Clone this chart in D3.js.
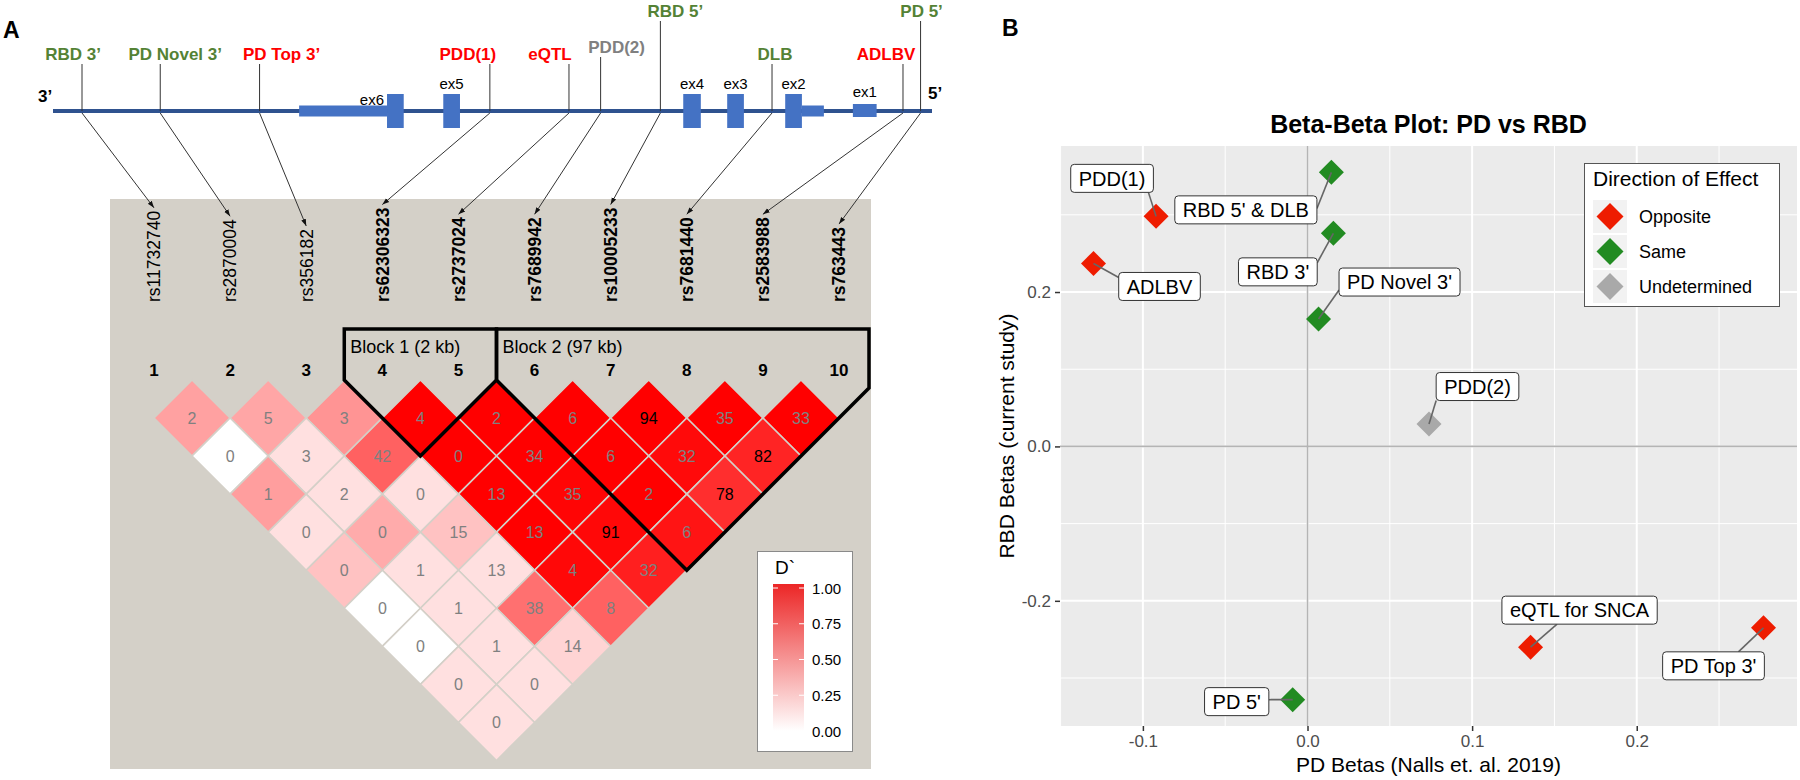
<!DOCTYPE html>
<html><head><meta charset="utf-8">
<script src="https://cdn.jsdelivr.net/npm/d3@7"></script>
<style>
body{margin:0;background:#fff}
svg{display:block}
text{font-family:"Liberation Sans",Arial,Helvetica,sans-serif}
</style>
</head><body>
<svg id="c" width="1800" height="780"></svg>
<script>
// ================= DATA =================
// Panel A: gene diagram
const geneLabels = ["RBD 3’","PD Novel 3’","PD Top 3’","PDD(1)","eQTL","PDD(2)","RBD 5’","DLB","ADLBV","PD 5’"];
const geneLabelEffect = ["Same","Same","Opposite","Opposite","Opposite","Undetermined","Same","Same","Opposite","Same"];
const genePos = [3.3,12.2,23.5,49.7,58.7,62.3,69.1,81.8,96.7,98.7]; // relative position along drawn region (0-100)
const exonNames = ["ex6","ex5","ex4","ex3","ex2","ex1"];
const exonStart = [38.0,44.4,71.7,76.7,83.3,91.0];
const exonEnd   = [39.9,46.3,73.7,78.6,85.2,93.7];
const exonType  = ["coding","coding","coding","coding","coding","noncoding"];
const utrStart = [28.0,85.2];
const utrEnd   = [38.0,87.7];

// Panel A: LD plot
const snpIds = ["rs11732740","rs2870004","rs356182","rs62306323","rs2737024","rs7689942","rs10005233","rs7681440","rs2583988","rs763443"];
const snpNumbers = ["1","2","3","4","5","6","7","8","9","10"];
// rows by distance k=1..9; entry i -> pair (i+1, i+1+k)
const ldR2Rows = [
  [2,5,3,4,2,6,94,35,33],
  [0,3,42,0,34,6,32,82],
  [1,2,0,13,35,2,78],
  [0,0,15,13,91,6],
  [0,1,13,4,32],
  [0,1,38,8],
  [0,1,14],
  [0,0],
  [0]
];
const ldDprimeRows = [
  [0.37,0.35,0.42,1,1,1,1,1,1],
  [0,0.12,0.62,1,1,1,0.96,0.86],
  [0.38,0.12,0.12,1,0.98,1,0.82],
  [0.12,0.33,0.24,1,0.97,0.92],
  [0.24,0.12,0.12,0.97,0.88],
  [0,0.12,0.56,0.62],
  [0,0.12,0.17],
  [0.12,0.12],
  [0.12]
];
const blockNames = ["Block 1 (2 kb)","Block 2 (97 kb)"];
const blockStart = [4,6];
const blockEnd = [5,10];
const dprimeTicks = [0,0.25,0.5,0.75,1];

// Panel B: beta-beta plot
const pointLabels = ["PDD(1)","RBD 5' & DLB","ADLBV","RBD 3'","PD Novel 3'","PDD(2)","eQTL for SNCA","PD Top 3'","PD 5'"];
const pdBetas  = [-0.092,0.0145,-0.130,0.0157,0.0067,0.0738,0.1355,0.277,-0.009];
const rbdBetas = [0.298,0.355,0.237,0.276,0.165,0.029,-0.260,-0.235,-0.328];
const effects  = ["Opposite","Same","Opposite","Same","Same","Undetermined","Opposite","Opposite","Same"];
const effectLevels = ["Opposite","Same","Undetermined"];
const xTicks = [-0.1,0,0.1,0.2];
const xMinor = [-0.15,-0.05,0.05,0.15,0.25];
const yTicks = [-0.2,0,0.2];
const yMinor = [-0.3,-0.1,0.1,0.3];

// ================= DRAW =================
const svg = d3.select("#c");
const defs = svg.append("defs");
defs.append("marker").attr("id","arr").attr("viewBox","0 0 10 10")
  .attr("refX",10).attr("refY",5).attr("markerWidth",7).attr("markerHeight",7)
  .attr("orient","auto").append("path").attr("d","M0,1.5L10,5L0,8.5z").attr("fill","#111");

// ---------- Panel A ----------
const A = svg.append("g");
A.append("text").attr("x",3).attr("y",38).attr("font-size",23).attr("font-weight","bold").text("A");

const labelColor = {Same:"#548235",Opposite:"#ff0000",Undetermined:"#808080"};
const gx = d3.scaleLinear().domain([0,100]).range([53,932]);
const geneY = 111;

// gray LD background
A.append("rect").attr("x",110).attr("y",199).attr("width",761).attr("height",570).attr("fill","#d4d0c8");

// gene backbone
A.append("line").attr("x1",gx(0)).attr("x2",gx(100)).attr("y1",geneY).attr("y2",geneY)
  .attr("stroke","#2f528f").attr("stroke-width",4);
A.selectAll(".utr").data(utrStart).join("rect")
  .attr("x",(d)=>gx(d)).attr("width",(d,i)=>gx(utrEnd[i])-gx(d))
  .attr("y",geneY-5.5).attr("height",11).attr("fill","#4472c4");
A.selectAll(".exon").data(exonNames).join("rect")
  .attr("x",(d,i)=>gx(exonStart[i])).attr("width",(d,i)=>gx(exonEnd[i])-gx(exonStart[i]))
  .attr("y",(d,i)=>exonType[i]==="coding"?geneY-17:geneY-7)
  .attr("height",(d,i)=>exonType[i]==="coding"?34:13).attr("fill","#4472c4");
// exon labels (ex6 sits left of its exon)
A.selectAll(".exlab").data(exonNames).join("text")
  .attr("x",(d,i)=> i===0 ? gx(exonStart[i])-3 : (gx(exonStart[i])+gx(exonEnd[i]))/2)
  .attr("y",(d,i)=> i===0 ? 105 : (exonType[i]==="coding"?89:97))
  .attr("text-anchor",(d,i)=> i===0 ? "end":"middle")
  .attr("font-size",15).text(d=>d);
A.append("text").attr("x",38).attr("y",102).attr("font-size",17).attr("font-weight","bold").text("3’");
A.append("text").attr("x",928).attr("y",99).attr("font-size",17).attr("font-weight","bold").text("5’");

// gene label layout (horizontal shift of text vs. connector, label tier)
const labelShift = [-9,15,22,-22,-19,16,15,3,-17,1];
const labelBase  = [60,60,60,60,60,53,17,60,60,17];
A.selectAll(".glab").data(geneLabels).join("text")
  .attr("x",(d,i)=>gx(genePos[i])+labelShift[i]).attr("y",(d,i)=>labelBase[i])
  .attr("text-anchor","middle").attr("font-size",17).attr("font-weight","bold")
  .attr("fill",(d,i)=>labelColor[geneLabelEffect[i]]).text(d=>d);
A.selectAll(".gconn").data(geneLabels).join("line")
  .attr("x1",(d,i)=>gx(genePos[i])).attr("x2",(d,i)=>gx(genePos[i]))
  .attr("y1",(d,i)=>labelBase[i]+4).attr("y2",geneY)
  .attr("stroke","#333").attr("stroke-width",1);

// LD layout
const xs = d3.scalePoint().domain(snpNumbers).range([154,839]);
const step = xs.step();
const h = step/2;
const row1Y = 418;

// SNP labels
const snpLabelBottom = 302;
const snpText = A.selectAll(".snp").data(snpIds).join("text")
  .attr("transform",(d,i)=>`translate(${xs(snpNumbers[i])},${snpLabelBottom}) rotate(-90)`)
  .attr("dy","0.36em").attr("font-size",17.5)
  .attr("font-weight",(d,i)=> i>=3 ? "bold":"normal").text(d=>d);
const snpLen = snpText.nodes().map(n=>n.getComputedTextLength());

// arrows gene -> snp labels
A.selectAll(".garr").data(geneLabels).join("line")
  .attr("x1",(d,i)=>gx(genePos[i])).attr("y1",geneY+2)
  .attr("x2",(d,i)=>xs(snpNumbers[i])).attr("y2",(d,i)=>snpLabelBottom-snpLen[i]-3)
  .attr("stroke","#333").attr("stroke-width",1).attr("marker-end","url(#arr)");

// SNP numbers
A.selectAll(".num").data(snpNumbers).join("text")
  .attr("x",d=>xs(d)).attr("y",376).attr("text-anchor","middle")
  .attr("font-size",17).attr("font-weight","bold").text(d=>d);

// LD cells
const ldColor = d3.scaleLinear().domain([0,1]).range(["#ffffff","#ff0000"]);
const cells = [];
ldR2Rows.forEach((row,k)=>row.forEach((v,i)=>{
  const a = snpNumbers[i], b = snpNumbers[i+k+1];
  cells.push({r2:v, dp:ldDprimeRows[k][i], cx:(xs(a)+xs(b))/2, cy:row1Y+k*h});
}));
const cg = A.append("g");
cg.selectAll("path").data(cells).join("path")
  .attr("d",d=>`M${d.cx},${d.cy-h}L${d.cx+h},${d.cy}L${d.cx},${d.cy+h}L${d.cx-h},${d.cy}Z`)
  .attr("fill",d=>ldColor(d.dp)).attr("stroke","#d4d0c8").attr("stroke-width",1.6);
cg.selectAll("text").data(cells).join("text")
  .attr("x",d=>d.cx).attr("y",d=>d.cy+6).attr("text-anchor","middle")
  .attr("font-size",16).attr("fill",d=>d.r2>=70?"#000":"#808080").text(d=>d.r2);

// blocks
const boxRight = 869, blockTop = 329, rowTop = row1Y - h;
const blockPts = blockNames.map((n,bi)=>{
  const xl = xs(String(blockStart[bi])) - h;
  const xrFull = xs(String(blockEnd[bi])) + h;
  const xr = Math.min(xrFull, boxRight);
  const xm = (xl+xrFull)/2, yb = rowTop + (xrFull-xl)/2;
  return {name:n, xl, pts:[[xl,blockTop],[xr,blockTop],[xr,rowTop+(xrFull-xr)],[xm,yb],[xl,rowTop]]};
});
A.selectAll(".blk").data(blockPts).join("path")
  .attr("d",d=>"M"+d.pts.map(p=>p.join(",")).join("L")+"Z")
  .attr("fill","none").attr("stroke","#000").attr("stroke-width",3.5).attr("stroke-linejoin","miter");
A.selectAll(".blklab").data(blockPts).join("text")
  .attr("x",d=>d.xl+6).attr("y",353).attr("font-size",18).text(d=>d.name);

// D' legend
const lg = A.append("g");
lg.append("rect").attr("x",757.5).attr("y",551.5).attr("width",95).attr("height",200)
  .attr("fill","#fff").attr("stroke","#8a8a8a").attr("stroke-width",1);
lg.append("text").attr("x",775).attr("y",574).attr("font-size",19).text("D`");
const grad = defs.append("linearGradient").attr("id","dpg").attr("x1",0).attr("x2",0).attr("y1",1).attr("y2",0);
grad.append("stop").attr("offset","0%").attr("stop-color","#ffffff");
grad.append("stop").attr("offset","100%").attr("stop-color","#ec2626");
const ly = d3.scaleLinear().domain([0,1]).range([731,588]);
lg.append("rect").attr("x",773).attr("y",584).attr("width",31).attr("height",147).attr("fill","url(#dpg)");
lg.selectAll(".tk").data(dprimeTicks.filter(t=>t>0)).join("g").each(function(t){
  const g = d3.select(this);
  g.append("line").attr("x1",773).attr("x2",778).attr("y1",ly(t)).attr("y2",ly(t)).attr("stroke","#fff").attr("stroke-width",1);
  g.append("line").attr("x1",799).attr("x2",804).attr("y1",ly(t)).attr("y2",ly(t)).attr("stroke","#fff").attr("stroke-width",1);
});
lg.selectAll(".tl").data(dprimeTicks).join("text")
  .attr("x",812).attr("y",t=>ly(t)+5.5).attr("font-size",15).text(t=>d3.format(".2f")(t));

// ---------- Panel B ----------
const B = svg.append("g");
B.append("text").attr("x",1002).attr("y",36).attr("font-size",23).attr("font-weight","bold").text("B");

const expand = (ext)=>{const s=(ext[1]-ext[0])*0.05; return [ext[0]-s, ext[1]+s];};
const bx = d3.scaleLinear().domain(expand(d3.extent(pdBetas))).range([1060,1797]);
const by = d3.scaleLinear().domain(expand(d3.extent(rbdBetas))).range([726,146]);
const [px0,px1] = bx.range(), [py1,py0] = by.range();

B.append("rect").attr("x",px0).attr("y",py0).attr("width",px1-px0).attr("height",py1-py0).attr("fill","#ebebeb");
B.selectAll(".gxm").data(xMinor).join("line").attr("x1",d=>bx(d)).attr("x2",d=>bx(d)).attr("y1",py0).attr("y2",py1).attr("stroke","#fff").attr("stroke-width",1);
B.selectAll(".gym").data(yMinor).join("line").attr("y1",d=>by(d)).attr("y2",d=>by(d)).attr("x1",px0).attr("x2",px1).attr("stroke","#fff").attr("stroke-width",1);
B.selectAll(".gx").data(xTicks).join("line").attr("x1",d=>bx(d)).attr("x2",d=>bx(d)).attr("y1",py0).attr("y2",py1).attr("stroke","#fff").attr("stroke-width",2);
B.selectAll(".gy").data(yTicks).join("line").attr("y1",d=>by(d)).attr("y2",d=>by(d)).attr("x1",px0).attr("x2",px1).attr("stroke","#fff").attr("stroke-width",2);
// zero reference lines
B.append("line").attr("x1",bx(0)).attr("x2",bx(0)).attr("y1",py0).attr("y2",py1).attr("stroke","#b4b4b4").attr("stroke-width",1.6);
B.append("line").attr("y1",by(0)).attr("y2",by(0)).attr("x1",px0).attr("x2",px1).attr("stroke","#b4b4b4").attr("stroke-width",1.6);

// axes
const xAxis = B.append("g").attr("transform",`translate(0,${py1})`)
  .call(d3.axisBottom(bx).tickValues(xTicks).tickSize(5).tickPadding(4).tickFormat(d3.format(".1f")));
const yAxis = B.append("g").attr("transform",`translate(${px0},0)`)
  .call(d3.axisLeft(by).tickValues(yTicks).tickSize(5).tickPadding(4).tickFormat(d3.format(".1f")));
[xAxis,yAxis].forEach(a=>{
  a.select(".domain").remove();
  a.selectAll(".tick line").attr("stroke","#333").attr("stroke-width",1.5);
  a.selectAll(".tick text").attr("fill","#4d4d4d").attr("font-size",17)
    .attr("font-family","'Liberation Sans',Arial,sans-serif");
});
xAxis.selectAll(".tick text").text(d=>d3.format(".1f")(d).replace("−","-"));
yAxis.selectAll(".tick text").text(d=>d3.format(".1f")(d).replace("−","-"));

B.append("text").attr("x",(px0+px1)/2).attr("y",772).attr("text-anchor","middle").attr("font-size",21)
  .text("PD Betas (Nalls et. al. 2019)");
B.append("text").attr("transform",`translate(1014,${(py0+py1)/2}) rotate(-90)`).attr("text-anchor","middle")
  .attr("font-size",21).text("RBD Betas (current study)");
B.append("text").attr("x",(px0+px1)/2).attr("y",133).attr("text-anchor","middle").attr("font-size",25)
  .attr("font-weight","bold").text("Beta-Beta Plot: PD vs RBD");

const effColor = {Opposite:"#ee1c00",Same:"#228b22",Undetermined:"#a9a9a9"};
const dia = (cx,cy,r)=>`M${cx},${cy-r}L${cx+r},${cy}L${cx},${cy+r}L${cx-r},${cy}Z`;

const pts = pointLabels.map((n,i)=>({name:n, x:bx(pdBetas[i]), y:by(rbdBetas[i]), eff:effects[i]}));
B.selectAll(".pt").data(pts).join("path").attr("d",d=>dia(d.x,d.y,12.5)).attr("fill",d=>effColor[d.eff]);

// repelled label layout: offset (px, point -> label centre) and segment anchor on box (fraction of half-size)
const labelOffset = {"PDD(1)":[-44,-38],"RBD 5' & DLB":[-85.5,37.5],"ADLBV":[66,23],"RBD 3'":[-55.5,38.5],
  "PD Novel 3'":[81,-37],"PDD(2)":[48.5,-37.5],"eQTL for SNCA":[49,-37],"PD Top 3'":[-50,38],"PD 5'":[-56,2]};
const labelAnchor = {"PDD(1)":[0.88,1],"RBD 5' & DLB":[1,-0.1],"ADLBV":[-1,-0.64],"RBD 3'":[1,-0.65],
  "PD Novel 3'":[-1,0.57],"PDD(2)":[-1,1],"eQTL for SNCA":[-0.29,1],"PD Top 3'":[0.49,-1],"PD 5'":[1,-0.14]};
const lblG = B.append("g");
pts.forEach(p=>{
  const off = labelOffset[p.name], an = labelAnchor[p.name];
  const cx = p.x+off[0], cy = p.y+off[1];
  const t = lblG.append("text").attr("x",cx).attr("y",cy).attr("dy","0.36em").attr("text-anchor","middle")
    .attr("font-size",20).text(p.name);
  const w = t.node().getComputedTextLength()+16, hh = 28;
  const ex = cx+an[0]*w/2, ey = cy+an[1]*hh/2;
  lblG.insert("line","text").attr("x1",ex).attr("y1",ey).attr("x2",p.x).attr("y2",p.y)
    .attr("stroke","#666").attr("stroke-width",1.6);
  lblG.insert("rect","text").attr("x",cx-w/2).attr("y",cy-hh/2).attr("width",w).attr("height",hh).attr("rx",3.5)
    .attr("fill","#fff").attr("stroke","#333").attr("stroke-width",1);
  t.raise();
});

// legend
const L = B.append("g");
L.append("rect").attr("x",1584.5).attr("y",163.5).attr("width",195).attr("height",143)
  .attr("fill","#fff").attr("stroke","#555").attr("stroke-width",1);
L.append("text").attr("x",1593).attr("y",186).attr("font-size",21).text("Direction of Effect");
effectLevels.forEach((e,i)=>{
  const cy = 216.5 + i*35;
  L.append("rect").attr("x",1593).attr("y",cy-16.5).attr("width",34).attr("height",33).attr("fill","#f2f2f2");
  L.append("path").attr("d",dia(1610,cy,13.5)).attr("fill",effColor[e]);
  L.append("text").attr("x",1639).attr("y",cy).attr("dy","0.36em").attr("font-size",18).text(e);
});
</script>
</body></html>
